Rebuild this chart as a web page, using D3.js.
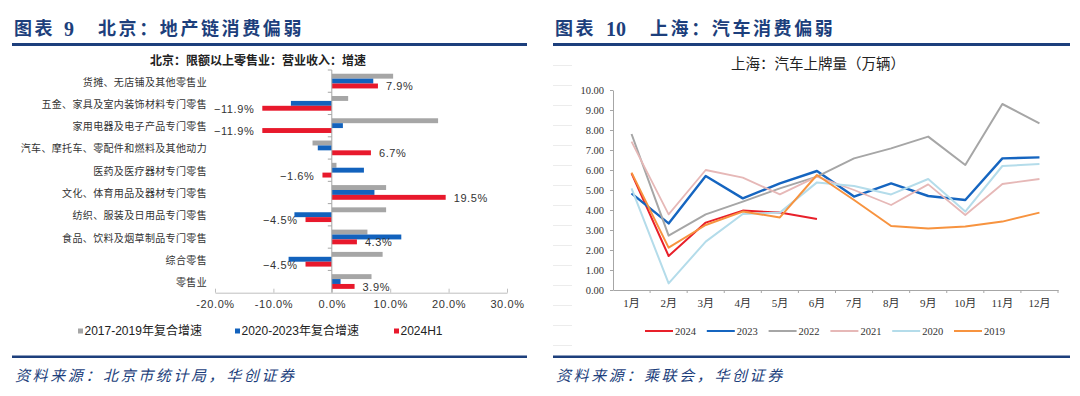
<!DOCTYPE html>
<html><head><meta charset="utf-8">
<script src="https://cdn.jsdelivr.net/npm/d3@7"></script>
<style>
html,body{margin:0;padding:0;background:#fff;}
svg{display:block;}
</style></head>
<body>
<svg id="c" width="1080" height="396"></svg>
<script>
// ---------- Left chart data ----------
const bjCategories = ["货摊、无店铺及其他零售业","五金、家具及室内装饰材料专门零售","家用电器及电子产品专门零售","汽车、摩托车、零配件和燃料及其他动力","医药及医疗器材专门零售","文化、体育用品及器材专门零售","纺织、服装及日用品专门零售","食品、饮料及烟草制品专门零售","综合零售","零售业"];
const cagr1719 = [10.5, 2.8, 18.2, -3.3, 0.8, 9.3, 9.3, 6.1, 8.7, 6.8];
const cagr2023 = [7.1, -7.0, 1.9, -2.4, 5.5, 7.3, -6.4, 11.9, -7.4, 1.5];
const h1_2024  = [7.9, -11.9, -11.9, 6.7, -1.6, 19.5, -4.5, 4.3, -4.5, 3.9];
const bjTicks = [-20, -10, 0, 10, 20, 30];
const bjSeriesNames = ["2017-2019年复合增速","2020-2023年复合增速","2024H1"];

// ---------- Right chart data ----------
const months = ["1月","2月","3月","4月","5月","6月","7月","8月","9月","10月","11月","12月"];
const shYears = ["2024","2023","2022","2021","2020","2019"];
const s2024 = [5.83, 1.70, 3.37, 3.97, 3.87, 3.55];
const s2023 = [4.83, 3.33, 5.70, 4.58, 5.33, 5.95, 4.67, 5.33, 4.70, 4.50, 6.58, 6.63];
const s2022 = [7.80, 2.72, 3.78, 4.42, 5.08, 5.67, 6.58, 7.08, 7.67, 6.25, 9.30, 8.33];
const s2021 = [7.42, 3.78, 6.00, 5.62, 4.78, 5.67, 5.00, 4.25, 5.28, 3.75, 5.30, 5.55];
const s2020 = [5.08, 0.33, 2.42, 3.80, 3.87, 5.38, 5.20, 4.78, 5.55, 3.92, 6.20, 6.30];
const s2019 = [5.87, 2.12, 3.25, 3.92, 3.63, 5.75, 4.50, 3.20, 3.08, 3.17, 3.42, 3.87];
const shTicks = [0,1,2,3,4,5,6,7,8,9,10];

const svg = d3.select("#c");
const NAVY = "#1d3f7c";
const CJK = "'Noto Sans CJK SC', sans-serif";
const SERIF = "'Liberation Serif','Times New Roman', 'Noto Sans CJK SC', serif";
const SANS = "'Liberation Sans', Arial, 'Noto Sans CJK SC', sans-serif";

// ---------- Headers / footers ----------
function header(x0, x1, label, num, numX, title, titleX) {
  svg.append("text").attr("x", x0 + 2).attr("y", 28.5).attr("dominant-baseline","central")
    .attr("font-family", SERIF).attr("font-weight","bold").attr("font-size",18)
    .attr("letter-spacing", 2.5).attr("fill", NAVY).text(label);
  svg.append("text").attr("x", numX).attr("y", 28.5).attr("dominant-baseline","central")
    .attr("font-family", SERIF).attr("font-weight","bold").attr("font-size",20)
    .attr("fill", NAVY).text(num);
  svg.append("text").attr("x", titleX).attr("y", 28.5).attr("dominant-baseline","central")
    .attr("font-family", SERIF).attr("font-weight","bold").attr("font-size",18)
    .attr("letter-spacing", 2.6).attr("fill", NAVY).text(title);
  svg.append("rect").attr("x", x0).attr("y", 43).attr("width", x1 - x0).attr("height", 3).attr("fill", NAVY);
  svg.append("rect").attr("x", x0).attr("y", 355.5).attr("width", x1 - x0).attr("height", 2.5).attr("fill", NAVY);
}
header(12, 527, "图表", "9", 64, "北京：地产链消费偏弱", 98);
header(553, 1070, "图表", "10", 606, "上海：汽车消费偏弱", 650);

svg.append("text").attr("x", 15).attr("y", 374).attr("dominant-baseline","central")
  .attr("font-family", CJK).attr("font-style","italic").attr("font-size",15)
  .attr("letter-spacing", 2.6).attr("fill", NAVY).text("资料来源：北京市统计局，华创证券");
svg.append("text").attr("x", 556).attr("y", 374).attr("dominant-baseline","central")
  .attr("font-family", CJK).attr("font-style","italic").attr("font-size",15)
  .attr("letter-spacing", 2.6).attr("fill", NAVY).text("资料来源：乘联会，华创证券");

// ---------- Left chart ----------
const L = svg.append("g");
L.append("text").attr("x", 258).attr("y", 59).attr("text-anchor","middle").attr("dominant-baseline","central")
  .attr("font-family", CJK).attr("font-weight","bold").attr("font-size",12).attr("fill","#222")
  .text("北京：限额以上零售业：营业收入：增速");

const bx = d3.scaleLinear().domain([-20, 30]).range([215, 507]);
const by = d3.scaleBand().domain(bjCategories).range([70, 292.7]).paddingInner(0).paddingOuter(0);
const barColors = ["#a6a6a6", "#1262bd", "#e8192c"];
const barH = 4.9;
const seriesVals = [cagr1719, cagr2023, h1_2024];

// x axis
const xAxis = d3.axisBottom(bx).tickValues(bjTicks).tickFormat(d => d.toFixed(1) + "%").tickSize(4).tickSizeOuter(0);
const xg = L.append("g").attr("transform", `translate(0,${by.range()[1]})`).call(xAxis);
xg.select(".domain").attr("stroke", "#bfbfbf");
xg.selectAll(".tick line").attr("stroke", "#bfbfbf").attr("y1", -4).attr("y2", 0);
xg.selectAll(".tick text").attr("font-family", SANS).attr("font-size", 11).attr("fill", "#333")
  .attr("letter-spacing", 0.6).attr("y", 8);

// bars
seriesVals.forEach((vals, si) => {
  L.append("g").selectAll("rect").data(bjCategories).join("rect")
    .attr("x", (d, i) => bx(Math.min(0, vals[i])))
    .attr("width", (d, i) => Math.abs(bx(vals[i]) - bx(0)))
    .attr("y", d => by(d) + by.bandwidth() / 2 - 7.4 + si * barH)
    .attr("height", barH)
    .attr("fill", barColors[si]);
});

// zero axis with band ticks
L.append("line").attr("x1", bx(0)).attr("x2", bx(0)).attr("y1", by.range()[0]).attr("y2", by.range()[1])
  .attr("stroke", "#a6a6a6").attr("stroke-width", 1);
L.append("g").selectAll("line").data(bjCategories).join("line")
  .attr("x1", bx(0) - 4).attr("x2", bx(0))
  .attr("y1", d => by(d)).attr("y2", d => by(d))
  .attr("stroke", "#a6a6a6");

// category labels
L.append("g").selectAll("text").data(bjCategories).join("text")
  .attr("x", 207).attr("y", d => by(d) + by.bandwidth() / 2)
  .attr("text-anchor", "end").attr("dominant-baseline", "central")
  .attr("font-family", CJK).attr("font-size", 10).attr("letter-spacing", 0.35).attr("fill", "#333")
  .text(d => d);

// value labels (2024H1)
L.append("g").selectAll("text").data(bjCategories).join("text")
  .attr("x", (d, i) => h1_2024[i] >= 0 ? bx(h1_2024[i]) + 8 : bx(h1_2024[i]) - 8)
  .attr("y", d => by(d) + by.bandwidth() / 2 - 7.4 + 2 * barH + barH / 2 + 0.5)
  .attr("text-anchor", (d, i) => h1_2024[i] >= 0 ? "start" : "end")
  .attr("dominant-baseline", "central")
  .attr("font-family", SANS).attr("font-size", 11).attr("letter-spacing", 0.6).attr("fill", "#333")
  .text((d, i) => (h1_2024[i] < 0 ? "−" : "") + Math.abs(h1_2024[i]).toFixed(1) + "%");

// legend
const legX = [78, 235, 394];
bjSeriesNames.forEach((n, i) => {
  L.append("rect").attr("x", legX[i]).attr("y", 328.5).attr("width", 5).attr("height", 5).attr("fill", barColors[i]);
  L.append("text").attr("x", legX[i] + 6.5).attr("y", 331).attr("dominant-baseline", "central")
    .attr("font-family", SANS).attr("font-size", 12).attr("fill", "#222").text(n);
});

// ---------- Right chart ----------
const R = svg.append("g");
// faint decorative strokes at far left
R.append("g").selectAll("line").data(d3.range(15)).join("line")
  .attr("x1", 553).attr("x2", 572).attr("y1", d => 65.5 + d * 20).attr("y2", d => 65.5 + d * 20)
  .attr("stroke", "#ececec").attr("stroke-width", 1);

R.append("text").attr("x", 818).attr("y", 64).attr("text-anchor", "middle").attr("dominant-baseline", "central")
  .attr("font-family", SERIF).attr("font-size", 14.5).attr("fill", "#222").text("上海：汽车上牌量（万辆）");

const mx = d3.scaleBand().domain(months).range([613, 1058]).paddingInner(0).paddingOuter(0);
const my = d3.scaleLinear().domain([0, 10]).range([290, 90]);

// y axis
const yAxis = d3.axisLeft(my).tickValues(shTicks).tickFormat(d => d.toFixed(2)).tickSize(3).tickSizeOuter(0);
const yg = R.append("g").attr("transform", `translate(613,0)`).call(yAxis);
yg.select(".domain").attr("stroke", "#a6a6a6");
yg.selectAll(".tick line").attr("stroke", "#a6a6a6");
yg.selectAll(".tick text").attr("font-family", SERIF).attr("font-size", 10.5).attr("fill", "#333").attr("x", -9);

// x axis
const xAx2 = d3.axisBottom(mx).tickSize(0).tickSizeOuter(0);
const xg2 = R.append("g").attr("transform", `translate(0,290)`).call(xAx2);
xg2.select(".domain").attr("stroke", "#a6a6a6");
xg2.selectAll(".tick text").attr("font-family", SERIF).attr("font-size", 11).attr("fill", "#333").attr("y", 9);
R.append("g").selectAll("line").data(months.slice(1).map(m => mx(m)).concat([mx.range()[1]])).join("line")
  .attr("x1", d => d).attr("x2", d => d).attr("y1", 290).attr("y2", 293)
  .attr("stroke", "#a6a6a6");

// lines
const lineSeries = [s2024, s2023, s2022, s2021, s2020, s2019];
const lineColors = ["#e8202a", "#1565c0", "#a6a6a6", "#e6b8b7", "#b4dcea", "#f7933f"];
const lineWidths = [2, 2.4, 2, 1.8, 2, 2];
const line = d3.line().x((d, i) => mx(months[i]) + mx.bandwidth() / 2).y(d => my(d));
lineSeries.forEach((s, i) => {
  R.append("path").datum(s).attr("d", line).attr("fill", "none")
    .attr("stroke", lineColors[i]).attr("stroke-width", lineWidths[i]).attr("stroke-linejoin", "round");
});

// legend
shYears.forEach((y, i) => {
  const x0 = 645 + i * 61.8;
  R.append("line").attr("x1", x0).attr("x2", x0 + 28).attr("y1", 331).attr("y2", 331)
    .attr("stroke", lineColors[i]).attr("stroke-width", 2);
  R.append("text").attr("x", x0 + 30).attr("y", 331).attr("dominant-baseline", "central")
    .attr("font-family", SERIF).attr("font-size", 10.5).attr("fill", "#333").text(y);
});
</script>
</body></html>
